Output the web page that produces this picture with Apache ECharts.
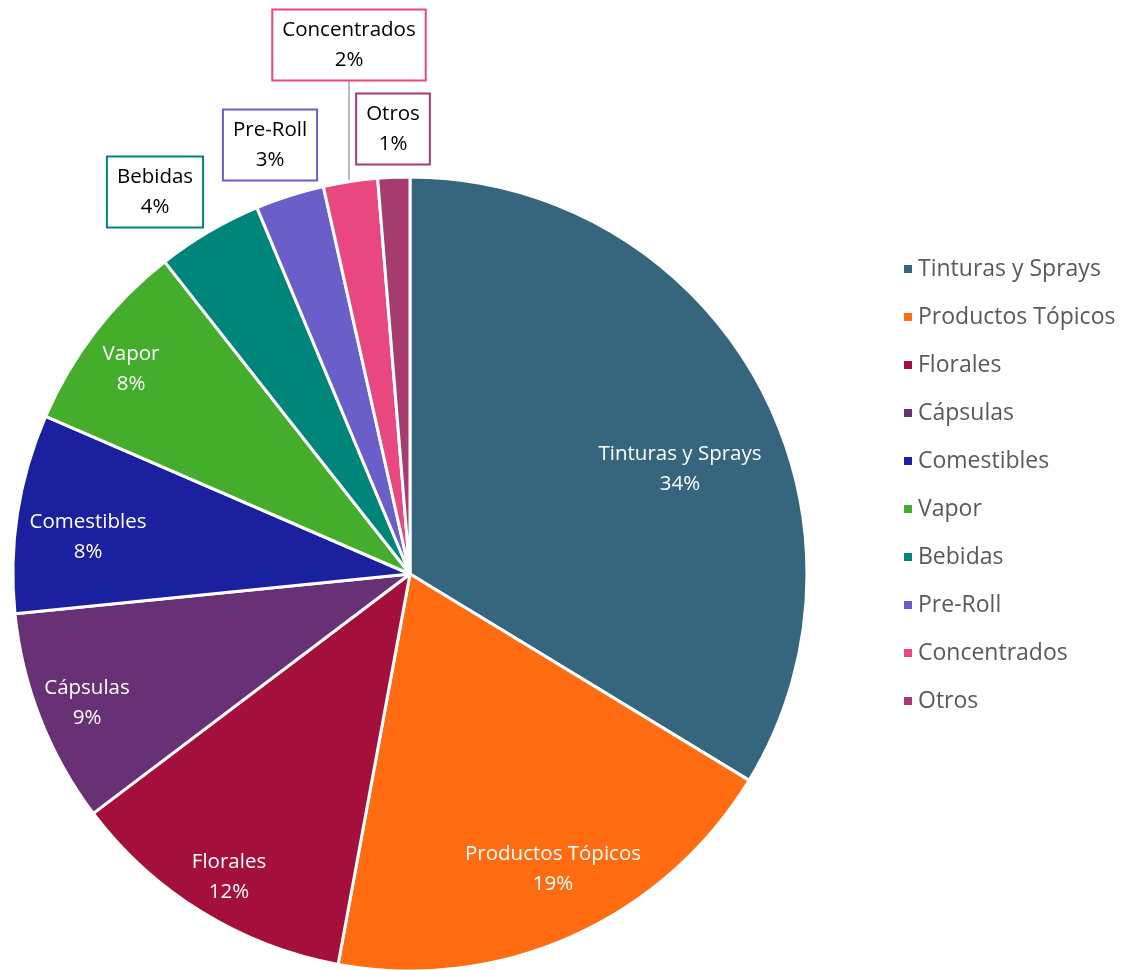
<!DOCTYPE html>
<html><head><meta charset="utf-8">
<script src="https://cdn.jsdelivr.net/npm/echarts@6/dist/echarts.min.js"></script>
<style>html,body{margin:0;padding:0;background:#fff}#c{width:1126px;height:970px}</style>
</head><body><div id="c"></div>
<script>
const categories = ['Tinturas y Sprays','Productos Tópicos','Florales','Cápsulas','Comestibles','Vapor','Bebidas','Pre-Roll','Concentrados','Otros'];
const values = [33.7, 19.2, 11.8, 8.7, 8.1, 7.9, 4.3, 2.8, 2.2, 1.3];
const colors = ['#36667E','#FF6C12','#A50F3C','#693175','#1B209F','#44AD2B','#00857A','#6A5FC8','#E8477F','#A63B6E'];
const outside = [false,false,false,false,false,false,true,true,true,true];
// label centre positions (layout)
const labelPos = [[680,469],[553,869],[229,877],[87,703],[88,537],[131,369],[155,192],[270,145],[349,45],[393,129]];
const FONT = '"Open Sans", sans-serif';

const data = categories.map((name,i)=>{
  const d = {name, value: values[i], itemStyle:{color: colors[i]}};
  if (outside[i]) {
    d.label = {position:'outside', color:'#000', backgroundColor:'#fff', borderColor: colors[i], borderWidth:2,
      padding:[5,9,4,9]};
    d.labelLine = {show: name==='Concentrados', lineStyle:{color:'#A6A6A6', width:1.5}};
  } else {
    d.label = {position:'inside', color:'#fff'};
    d.labelLine = {show:false};
  }
  return d;
});

const chart = echarts.init(document.getElementById('c'), null, {renderer:'canvas'});
chart.setOption({
  animation:false,
  legend:{
    orient:'vertical', left:897, top:252,
    icon:'rect', itemWidth:10, itemHeight:10, itemGap:24,
    textStyle:{fontFamily:FONT, fontSize:23, color:'#595959', lineHeight:24},
    data: categories
  },
  series:[{
    type:'pie', center:[410,574], radius:397, startAngle:90, clockwise:true,
    avoidLabelOverlap:false,
    itemStyle:{borderColor:'#fff', borderWidth:3},
    label:{fontFamily:FONT, fontSize:20.5, lineHeight:30,
      formatter: p => p.name + '\n' + Math.round(p.percent) + '%'},
    labelLayout: function(p){
      const pos = labelPos[p.dataIndex];
      const r = {x: pos[0], y: pos[1], align:'center', verticalAlign:'middle'};
      if (categories[p.dataIndex]==='Concentrados') {
        r.labelLinePoints = [[pos[0],181],[pos[0],80],[pos[0],80]];
      }
      return r;
    },
    data
  }]
});
</script></body></html>
